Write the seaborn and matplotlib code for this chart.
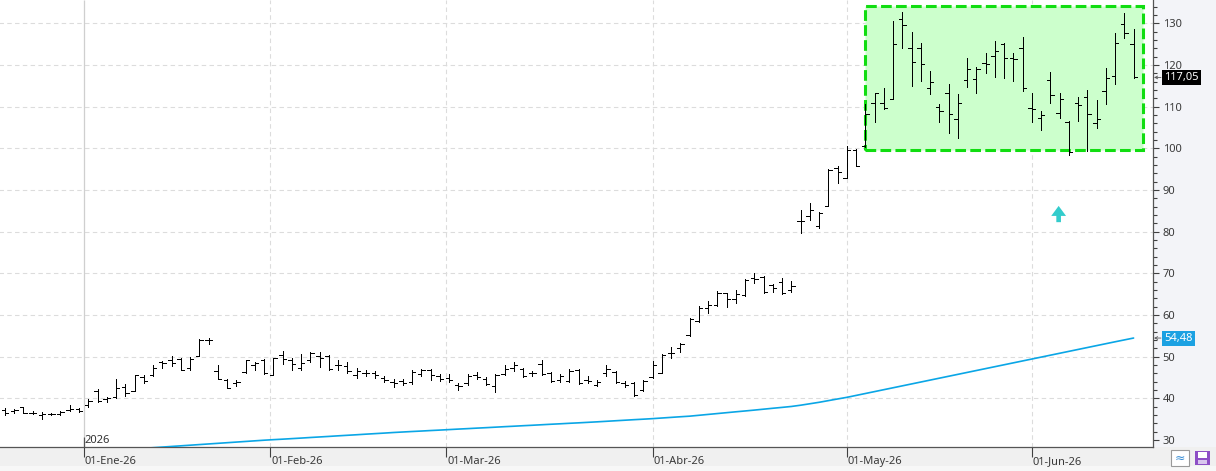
import numpy as np
import pandas as pd
import seaborn as sns
from matplotlib import pyplot as plt
from matplotlib.patches import Rectangle, FancyArrow
from matplotlib.transforms import blended_transform_factory

# trading days (US market calendar)
holidays = ["2025-12-25", "2026-01-01", "2026-01-19", "2026-02-16", "2026-04-03", "2026-05-25"]
dates = pd.bdate_range("2025-12-18", "2026-06-16", freq="C", holidays=holidays)

opens = [37.2, 37.0, 37.9, 36.6, 36.1, 36.2, 36.2, 37.2, 37.5, 38.4,
         41.8, 39.8, 40.4, 42.8, 41.7, 45.1, 45.7, 48.7, 49.1, 49.4,
         47.2, 50.2, 54.0, 46.5, 44.3, 43.6, 46.3, 47.9, 49.1, 45.5,
         50.4, 49.2, 47.4, 49.1, 50.2, 50.2, 48.1, 47.7, 45.7, 46.1,
         46.0, 45.0, 43.9, 44.2, 43.9, 45.8, 46.9, 45.3, 44.8, 43.1,
         43.7, 45.7, 44.7, 42.9, 45.8, 47.2, 47.1, 46.0, 48.3, 46.1,
         44.3, 44.2, 46.9, 44.4, 43.3, 46.0, 46.4, 43.6, 43.6, 42.0,
         45.2, 46.2, 51.0, 52.0, 55.1, 58.6, 61.6, 62.4, 65.2, 63.8,
         64.7, 69.0, 69.2, 67.2, 68.0, 66.0, 82.6, 83.8, 81.4, 86.2,
         95.4, 93.0, 99.6, 100.6, 111.0, 111.0, 111.9, 131.0, 124.2, 124.0,
         114.6, 110.0, 113.4, 107.0, 116.4, 116.6, 120.4, 122.2, 125.0, 121.6,
         124.0, 109.6, 107.4, 116.4, 108.4, 106.4, 111.0, 112.4, 106.0, 113.8,
         117.5, 129.8, 125.0]
highs = [37.6, 37.5, 38.0, 37.0, 36.7, 36.6, 37.0, 38.4, 37.8, 39.8,
         42.2, 40.4, 44.7, 43.5, 45.7, 45.5, 48.0, 48.9, 50.1, 49.8,
         50.0, 54.2, 54.5, 48.0, 44.7, 44.3, 49.2, 48.8, 49.4, 49.7,
         51.4, 49.8, 50.6, 51.2, 51.1, 50.4, 49.3, 48.8, 47.3, 46.7,
         46.6, 45.4, 44.6, 44.7, 46.7, 47.1, 47.0, 45.9, 45.8, 43.6,
         45.9, 46.3, 45.2, 45.8, 47.9, 48.7, 47.2, 46.6, 49.1, 46.3,
         45.8, 47.0, 47.0, 45.3, 44.4, 48.0, 46.6, 44.2, 44.0, 44.4,
         49.0, 50.6, 52.4, 53.2, 59.2, 62.2, 63.4, 65.8, 65.4, 66.0,
         68.6, 70.2, 69.4, 67.4, 68.8, 68.2, 85.2, 87.0, 84.8, 95.0,
         95.8, 100.6, 99.8, 110.6, 113.4, 114.4, 130.6, 132.8, 128.0, 125.2,
         118.6, 110.6, 115.4, 113.0, 121.8, 119.6, 123.0, 125.8, 125.2, 123.0,
         126.8, 113.2, 109.0, 118.4, 113.2, 106.6, 112.4, 114.0, 111.6, 119.4,
         127.6, 132.6, 128.6]
lows = [35.9, 36.5, 36.5, 36.2, 35.1, 35.9, 35.9, 36.9, 36.7, 38.0,
        39.2, 39.2, 40.2, 40.6, 41.7, 43.8, 45.4, 47.2, 47.8, 46.7,
        46.9, 50.1, 53.0, 44.6, 42.4, 43.0, 46.1, 46.9, 45.9, 45.5,
        48.3, 46.9, 46.7, 48.8, 47.5, 46.7, 46.9, 46.1, 45.0, 45.4,
        44.8, 43.9, 42.8, 43.1, 43.5, 45.4, 44.3, 44.2, 43.9, 42.0,
        43.3, 44.6, 43.2, 41.6, 45.5, 46.5, 45.1, 45.4, 45.7, 43.9,
        44.0, 44.0, 43.5, 43.7, 43.0, 45.4, 43.7, 42.8, 40.6, 41.7,
        45.0, 46.0, 49.8, 51.2, 55.0, 58.4, 60.6, 62.2, 62.0, 62.8,
        64.6, 67.8, 65.2, 65.6, 65.0, 65.6, 79.6, 82.8, 80.8, 86.1,
        91.6, 92.8, 95.8, 100.4, 106.4, 109.4, 111.8, 124.0, 115.0, 116.2,
        113.0, 106.4, 103.8, 102.4, 114.8, 113.2, 118.0, 117.2, 117.0, 116.2,
        113.8, 106.4, 104.4, 110.8, 107.2, 98.4, 106.6, 99.4, 105.0, 110.6,
        115.4, 126.6, 117.0]
closes = [36.5, 37.1, 36.6, 36.5, 36.2, 36.3, 36.7, 37.5, 37.0, 39.4,
          39.4, 40.1, 42.5, 41.2, 45.5, 44.1, 47.2, 48.5, 48.4, 46.9,
          49.4, 54.0, 54.1, 44.7, 42.5, 43.9, 49.1, 48.5, 46.1, 49.6,
          49.4, 48.2, 48.5, 50.9, 49.8, 47.1, 48.0, 46.5, 46.5, 46.0,
          45.6, 44.4, 43.7, 43.6, 46.4, 46.9, 45.5, 44.6, 44.3, 42.9,
          45.4, 45.1, 43.5, 45.6, 47.0, 48.1, 45.3, 46.0, 45.8, 44.1,
          45.3, 46.5, 43.7, 44.2, 44.0, 47.1, 44.0, 43.2, 40.7, 44.2,
          47.9, 50.4, 51.0, 53.0, 59.0, 61.8, 62.4, 65.4, 63.8, 65.0,
          68.4, 68.6, 65.6, 66.4, 65.2, 67.0, 82.6, 85.2, 84.6, 94.8,
          94.4, 99.6, 95.9, 108.2, 113.2, 109.6, 125.0, 129.6, 120.7, 120.2,
          115.9, 109.0, 108.2, 110.8, 119.0, 119.0, 120.2, 123.4, 121.8, 121.4,
          114.6, 109.4, 108.0, 112.8, 111.8, 99.2, 110.4, 108.2, 107.0, 117.0,
          125.4, 127.8, 117.05]
# moving average (blue line), below the visible range for the first bars
ma = [np.nan] * 14 + [
    27.85, 28.0, 28.15, 28.3, 28.45, 28.6, 28.75, 28.9, 29.05, 29.2,
    29.35, 29.5, 29.65, 29.8, 29.95, 30.08, 30.2, 30.33, 30.46, 30.6,
    30.73, 30.86, 31.0, 31.13, 31.26, 31.4, 31.53, 31.66, 31.8, 31.92,
    32.04, 32.15, 32.27, 32.38, 32.5, 32.62, 32.73, 32.85, 32.96, 33.08,
    33.2, 33.31, 33.43, 33.54, 33.66, 33.78, 33.89, 34.01, 34.12, 34.24,
    34.36, 34.49, 34.62, 34.75, 34.88, 35.0, 35.13, 35.28, 35.43, 35.58,
    35.72, 35.93, 36.14, 36.35, 36.56, 36.77, 36.97, 37.18, 37.4, 37.62,
    37.83, 38.05, 38.35, 38.7, 39.05, 39.45, 39.85, 40.24, 40.7, 41.16,
    41.62, 42.08, 42.54, 43.0, 43.46, 43.92, 44.38, 44.84, 45.3, 45.76,
    46.22, 46.68, 47.14, 47.6, 48.06, 48.52, 48.98, 49.44, 49.9, 50.36,
    50.82, 51.28, 51.74, 52.2, 52.66, 53.12, 53.58, 54.03, 54.48]

month_starts = ["2026-01-01", "2026-02-01", "2026-03-01", "2026-04-01", "2026-05-01", "2026-06-01"]
month_labels = ["01-Ene-26", "01-Feb-26", "01-Mar-26", "01-Abr-26", "01-May-26", "01-Jun-26"]
year_label = "2026"
price_ticks = list(range(30, 131, 10))
last_label = "117,05"
ma_label = "54,48"

W, H = 1216, 471
AX_W, AX_H = 1153, 447
PX = 0.72  # one pixel in points


def date_pos(d):
    # bar position of a calendar date, between bars when market is closed
    d = pd.Timestamp(d)
    j = dates.searchsorted(d)
    if dates[j] == d:
        return float(j)
    prev, nxt = dates[j - 1], dates[j]
    return j - 1 + (d - prev).days / (nxt - prev).days


def main():
    sns.set_theme(style="white")
    plt.rcParams['font.family'] = ['Noto Sans', 'DejaVu Sans']

    assert len(dates) == len(opens) == len(highs) == len(lows) == len(closes) == len(ma)
    idx = np.arange(len(dates))
    df = pd.DataFrame({'idx': idx, 'open': opens, 'high': highs, 'low': lows,
                       'close': closes, 'ma': ma})
    mpos = [date_pos(d) for d in month_starts]

    fig = plt.figure(figsize=(W / 100, H / 100), dpi=100, facecolor='#f0f0f0')
    fig.patches.append(Rectangle((AX_W / W, (H - AX_H) / H), (W - AX_W) / W, AX_H / H,
                                 transform=fig.transFigure, fc='#f3f4f8', ec='none', zorder=-2))
    fig.patches.append(Rectangle((0, 0), 1, 5 / H, transform=fig.transFigure,
                                 fc='#f7f7f7', ec='none', zorder=-2))
    ax = fig.add_axes([0, (H - AX_H) / H, AX_W / W, AX_H / H])
    ax.set_facecolor('white')

    ymin, ymax = 28.32, 135.64
    ax.set_xlim(-0.54, 124.1)
    ax.set_ylim(ymin, ymax)

    # grid
    ax.hlines(price_ticks[1:], -1, 130, color='#dcdcdc', lw=0.8, linestyle=(0, (4, 3)), zorder=1)
    ax.vlines(mpos[1:], ymin, ymax, color='#dcdcdc', lw=0.8, linestyle=(0, (4, 3)), zorder=1)
    ax.vlines(mpos[0], ymin, ymax, color='#cfcfcf', lw=0.9, zorder=1)
    ax.vlines(mpos[0], ymin, 30.7, color='#555555', lw=0.9, zorder=2)
    ax.text(mpos[0] + 0.08, 29.3, year_label, fontsize=8, color='#333333', ha='left', va='baseline')

    # highlighted zone
    zone = Rectangle((92.97, 99.6), 123.06 - 92.97, 134.3 - 99.6, fc='#ccffcc', ec='#11dd11',
                     lw=2.2, linestyle=(0, (3.5, 1.4)), zorder=2)
    ax.add_patch(zone)

    # moving average
    sns.lineplot(data=df, x='idx', y='ma', color='#0aa6e6', lw=1.2, ax=ax, zorder=3)

    # OHLC bars
    t = 0.36
    kw = dict(color='black', lw=PX, antialiased=False, zorder=4)
    ax.vlines(df['idx'], df['low'], df['high'], **kw)
    ax.hlines(df['open'], df['idx'] - t, df['idx'], **kw)
    ax.hlines(df['close'], df['idx'], df['idx'] + t, **kw)

    # up arrow
    ax.add_patch(FancyArrow(113.9, 82.3, 0, 3.9, width=0.5, head_width=1.6, head_length=2.4,
                            length_includes_head=True, fc='#33cccc', ec='none', zorder=5))

    # axes
    ax.set_xlabel('')
    ax.set_ylabel('')
    for s in ['top', 'left']:
        ax.spines[s].set_visible(False)
    for s in ['right', 'bottom']:
        ax.spines[s].set_color('#555555')
        ax.spines[s].set_linewidth(0.9)

    ax.set_yticks(price_ticks)
    ax.set_yticklabels([str(v) for v in price_ticks])
    ax.set_yticks(np.arange(30, 136, 2), minor=True)
    ax.tick_params(axis='y', which='both', left=False, labelleft=False, right=True,
                   labelright=True, direction='out', color='#404040', width=0.8)
    ax.tick_params(axis='y', which='major', length=4.5, labelcolor='#3a3a3a', labelsize=8, pad=2.5)
    ax.tick_params(axis='y', which='minor', length=3)
    ax.set_xticks(mpos)
    ax.tick_params(axis='x', which='major', bottom=True, top=False, direction='out', length=7,
                   width=0.8, color='#404040', labelbottom=False)
    trans_x = blended_transform_factory(ax.transData, ax.transAxes)
    for p, lab in zip(mpos, month_labels):
        ax.text(p + 0.12, -17 / AX_H, lab, transform=trans_x, fontsize=8, color='#3a3a3a',
                ha='left', va='baseline', clip_on=False)

    # price tags on the right scale
    trans_y = blended_transform_factory(ax.transAxes, ax.transData)
    for val, lab, fc in [(closes[-1], last_label, 'black'), (ma[-1], ma_label, '#1ba1e2')]:
        ax.text(1 + 11 / AX_W, val, lab, transform=trans_y, fontsize=8, color='white',
                ha='left', va='center', clip_on=False, zorder=6,
                bbox=dict(boxstyle='square,pad=0.18', fc=fc, ec='none'))
        ax.annotate('', xy=(1 + 1 / AX_W, val), xytext=(1 + 8 / AX_W, val), xycoords=trans_y,
                    textcoords=trans_y, annotation_clip=False,
                    arrowprops=dict(arrowstyle='->', color='#555555', lw=0.6,
                                    shrinkA=0, shrinkB=0, mutation_scale=5))

    # small toolbar icons in the corner
    fig.patches.append(Rectangle((1171 / W, 5 / H), 18 / W, 16 / H, transform=fig.transFigure,
                                 fc='white', ec='#9a9a9a', lw=0.8))
    fig.text(1180 / W, 13 / H, '≈', color='#3b8fd6', fontsize=9, ha='center', va='center',
             family=['DejaVu Sans'])
    fig.patches.append(Rectangle((1195 / W, 6 / H), 15 / W, 14 / H, transform=fig.transFigure,
                                 fc='#8e4fc6', ec='none'))
    fig.patches.append(Rectangle((1198 / W, 13 / H), 9 / W, 6 / H, transform=fig.transFigure,
                                 fc='white', ec='none'))
    fig.patches.append(Rectangle((1198 / W, 7 / H), 9 / W, 4 / H, transform=fig.transFigure,
                                 fc='#d9c6ee', ec='none'))

    fig.savefig('out.png', dpi=100, facecolor=fig.get_facecolor())


if __name__ == "__main__":
    main()
